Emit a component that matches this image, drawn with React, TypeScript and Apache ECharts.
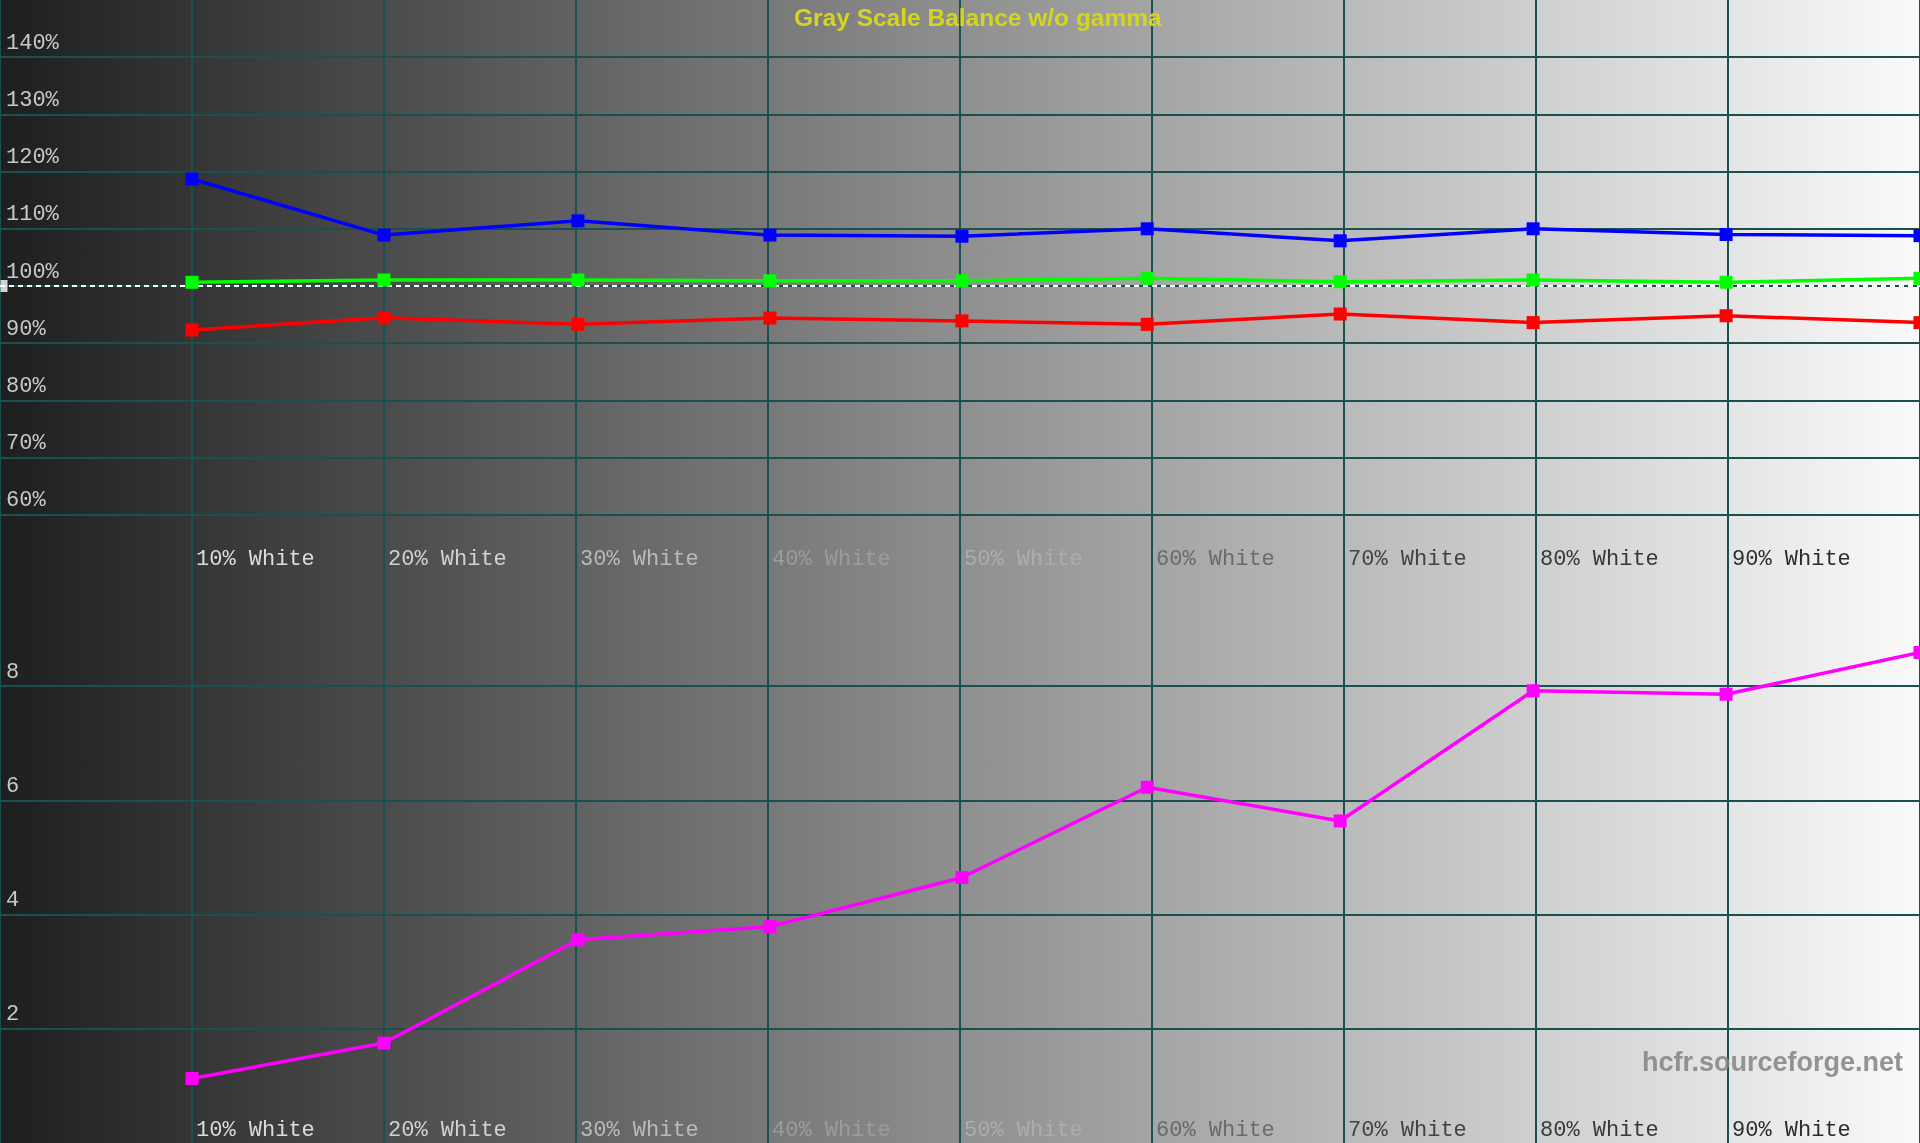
import React, { useEffect, useRef } from "react";
import * as echarts from "echarts";

// ---- data ----
const xLabels = ["10% White", "20% White", "30% White", "40% White", "50% White", "60% White", "70% White", "80% White", "90% White"];
const xs = [10, 20, 30.1, 40.1, 50.1, 59.75, 69.8, 79.85, 89.9, 100];
const blueVals = [118.7, 108.9, 111.4, 108.9, 108.7, 110.0, 107.9, 110.0, 109.0, 108.8];
const greenVals = [100.65, 101.05, 101.05, 100.9, 100.9, 101.35, 100.75, 101.05, 100.65, 101.35];
const redVals = [92.3, 94.45, 93.3, 94.4, 93.9, 93.3, 95.1, 93.6, 94.8, 93.6];
const deltaEVals = [1.13, 1.75, 3.56, 3.79, 4.65, 6.23, 5.64, 7.92, 7.86, 8.59];
const referenceLevel = 100;
const titleText = "Gray Scale Balance w/o gamma";
const watermarkText = "hcfr.sourceforge.net";

// ---- styles ----
const labelColors = ["#dcdcdc", "#d2d2d2", "#bababa", "#9c9c9c", "#adadad", "#6a6a6a", "#424242", "#383838", "#2c2c2c"];

const W = 1920;
const H = 1143;
const HALF = 572;

const BG_LEFT = 30;
const BG_RIGHT = 250;
const gridColor = "#1a5050";
const monoFont = "'Liberation Mono', 'Courier New', monospace";
const sansFont = "'Liberation Sans', Arial, sans-serif";

function gray(v: number) {
  const c = Math.max(0, Math.min(255, Math.round(v)));
  const h = c.toString(16).padStart(2, "0");
  return "#" + h + h + h;
}

const pairs = (vals: number[]) => vals.map((v, i) => [xs[i], v]);

function makeXAxis(gridIndex: number) {
  return {
    type: "value",
    gridIndex,
    min: 0,
    max: 100,
    interval: 10,
    axisLine: { show: false },
    axisTick: { show: false },
    splitLine: { show: true, showMaxLine: true, showMinLine: true, lineStyle: { color: gridColor, width: 2 } },
    axisLabel: {
      inside: true,
      margin: 2,
      align: "left",
      verticalAlign: "bottom",
      lineHeight: 22,
      padding: [0, 0, 0, 4],
      fontFamily: monoFont,
      fontSize: 22,
      showMinLabel: false,
      showMaxLabel: false,
      color: (v: number) => labelColors[Math.round(v / 10) - 1] ?? "#cccccc",
      formatter: (v: number) => {
        const i = Math.round(v / 10) - 1;
        return xLabels[i] ?? "";
      },
    },
  };
}

export default function App() {
  const ref = useRef<HTMLDivElement>(null);
  useEffect(() => {
    if (!ref.current) return;
    const chart = echarts.init(ref.current, undefined, { renderer: "svg", width: W, height: H });
    const lineSeries = (name: string, data: number[], color: string, xi: number) => ({
      name,
      type: "line",
      xAxisIndex: xi,
      yAxisIndex: xi,
      data: pairs(data),
      symbol: "rect",
      symbolSize: 13,
      showSymbol: true,
      lineStyle: { color, width: 3.5 },
      itemStyle: { color },
      z: 5,
    });
    chart.setOption({
      animation: false,
      backgroundColor: "transparent",
      title: {
        text: titleText,
        left: 794,
        top: 5,
        padding: 0,
        z: 1,
        textStyle: { fontFamily: sansFont, fontWeight: "bold", fontSize: 24.5, color: "#d4d422" },
      },
      graphic: [
        {
          type: "rect",
          z: -100,
          silent: true,
          shape: { x: 0, y: 0, width: W, height: H },
          style: {
            fill: new echarts.graphic.LinearGradient(0, 0, 1, 0, [
              { offset: 0, color: gray(BG_LEFT) },
              { offset: 0.5, color: gray(143) },
              { offset: 1, color: gray(BG_RIGHT) },
            ]),
          },
        },
        {
          type: "text",
          z: 1,
          silent: true,
          x: 1903,
          y: 1062,
          style: {
            text: watermarkText,
            fill: "rgba(130,130,130,0.85)",
            font: `bold 27px ${sansFont}`,
            align: "right",
            verticalAlign: "middle",
          },
        },
      ],
      grid: [
        { left: 0, right: 0, top: 0, height: HALF },
        { left: 0, right: 0, top: HALF, height: H - HALF },
      ],
      xAxis: [makeXAxis(0), makeXAxis(1)],
      yAxis: [
        {
          type: "value",
          gridIndex: 0,
          min: 50,
          max: 150,
          interval: 10,
          axisLine: { show: false },
          axisTick: { show: false },
          splitLine: { show: true, showMinLine: false, showMaxLine: false, lineStyle: { color: gridColor, width: 2 } },
          axisLabel: {
            inside: true,
            margin: 6,
            align: "left",
            verticalAlign: "bottom",
            lineHeight: 22,
            padding: [0, 0, 3, 0],
            fontFamily: monoFont,
            fontSize: 22,
            color: "#c8c8c8",
            showMinLabel: false,
            showMaxLabel: false,
            formatter: (v: number) => `${v}%`,
          },
        },
        {
          type: "value",
          gridIndex: 1,
          min: 0,
          max: 10,
          interval: 2,
          axisLine: { show: false },
          axisTick: { show: false },
          splitLine: { show: true, showMinLine: false, showMaxLine: false, lineStyle: { color: gridColor, width: 2 } },
          axisLabel: {
            inside: true,
            margin: 6,
            align: "left",
            verticalAlign: "bottom",
            lineHeight: 22,
            padding: [0, 0, 3, 0],
            fontFamily: monoFont,
            fontSize: 22,
            color: "#c8c8c8",
            showMinLabel: false,
            showMaxLabel: false,
          },
        },
      ],
      series: [
        {
          name: "Reference",
          type: "line",
          xAxisIndex: 0,
          yAxisIndex: 0,
          data: [
            [0, referenceLevel],
            [100, referenceLevel],
          ],
          symbol: "none",
          lineStyle: { color: "#ffffff", width: 2, type: [5, 4] },
          z: 3,
        },
        {
          name: "Reference marker",
          type: "scatter",
          xAxisIndex: 0,
          yAxisIndex: 0,
          data: [[0, referenceLevel]],
          symbol: "rect",
          symbolSize: [7, 12],
          symbolOffset: [4, 0],
          itemStyle: { color: "#ffffff" },
          z: 4,
        },
        lineSeries("Red", redVals, "#ff0000", 0),
        lineSeries("Green", greenVals, "#00ff00", 0),
        lineSeries("Blue", blueVals, "#0000ff", 0),
        lineSeries("DeltaE", deltaEVals, "#ff00ff", 1),
      ],
    });
    return () => chart.dispose();
  }, []);
  return (
    <div
      ref={ref}
      style={{ position: "fixed", left: 0, top: 0, width: W, height: H, overflow: "hidden" }}
    />
  );
}
